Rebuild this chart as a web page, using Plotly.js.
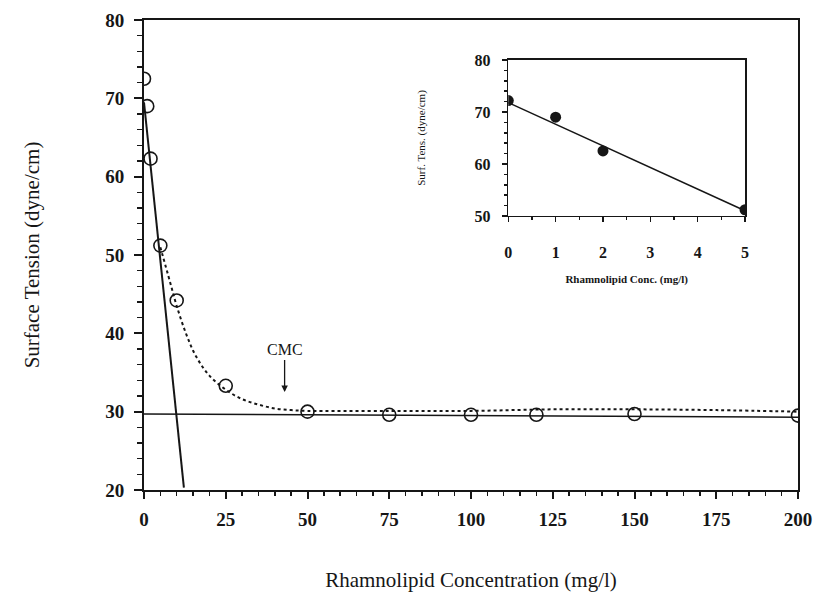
<!DOCTYPE html>
<html><head><meta charset="utf-8">
<script src="https://cdn.plot.ly/plotly-3.0.1.min.js"></script>
<style>body{margin:0;background:#fff}</style>
</head><body><div id="chart" style="width:815px;height:593px"></div>
<script>
// Main data: rhamnolipid concentration (mg/l) vs surface tension (dyne/cm)
const concMain = [0, 1, 2, 5, 10, 25, 50, 75, 100, 120, 150, 200];
const tensionMain = [72.5, 69.0, 62.3, 51.2, 44.2, 33.3, 30.0, 29.6, 29.6, 29.6, 29.7, 29.5];
// Dotted fitted curve
const curveX = [5, 8, 10, 13, 16, 20, 25, 30, 35, 40, 45, 50, 75, 100, 125, 150, 175, 200];
const curveY = [51.0, 46.5, 43.5, 39.8, 37.0, 34.6, 32.8, 31.6, 30.9, 30.4, 30.2, 30.1, 30.1, 30.1, 30.3, 30.3, 30.2, 30.0];
// Steep linear fit
const steepX = [0, 12.2];
const steepY = [69.5, 20.3];
// Plateau line
const plateauX = [0, 200];
const plateauY = [29.7, 29.3];
// Inset data
const concInset = [0, 1, 2, 5];
const tensionInset = [72.2, 69.0, 62.5, 51.2];
const insetFitX = [0, 5];
const insetFitY = [71.8, 51.0];
// CMC marker
const cmcX = 43;

const ink = '#161616';
const serif = 'Liberation Serif, Times New Roman, serif';

const traces = [
  {x: steepX, y: steepY, mode: 'lines', line: {color: ink, width: 2}, xaxis: 'x', yaxis: 'y'},
  {x: plateauX, y: plateauY, mode: 'lines', line: {color: ink, width: 1.5}, xaxis: 'x', yaxis: 'y'},
  {x: curveX, y: curveY, mode: 'lines', line: {color: ink, width: 2, dash: 'dot', shape: 'spline'}, xaxis: 'x', yaxis: 'y'},
  {x: concMain, y: tensionMain, mode: 'markers', marker: {symbol: 'circle-open', size: 13, color: ink, line: {width: 1.6, color: ink}}, xaxis: 'x', yaxis: 'y'},
  {x: insetFitX, y: insetFitY, mode: 'lines', line: {color: ink, width: 1.5}, xaxis: 'x2', yaxis: 'y2'},
  {x: concInset, y: tensionInset, mode: 'markers', marker: {symbol: 'circle', size: 11, color: ink}, xaxis: 'x2', yaxis: 'y2'}
];

const layout = {
  width: 815, height: 593,
  margin: {l: 144, r: 17, t: 20, b: 103},
  paper_bgcolor: '#fff', plot_bgcolor: '#fff',
  showlegend: false,
  font: {family: serif, color: ink},
  xaxis: {
    range: [0, 200], tickvals: [0, 25, 50, 75, 100, 125, 150, 175, 200],
    showgrid: false, zeroline: false, showline: true, linecolor: ink, linewidth: 2, mirror: true,
    ticks: 'outside', ticklen: 7, tickwidth: 2, tickcolor: ink,
    minor: {dtick: 5, ticks: 'outside', ticklen: 4, tickwidth: 1.5, tickcolor: ink},
    tickfont: {family: serif, size: 19, color: ink, weight: 'bold'},
    ticklabelstandoff: 4,
    title: {text: 'Rhamnolipid Concentration (mg/l)', font: {family: serif, size: 21, color: ink}, standoff: 44}
  },
  yaxis: {
    range: [20, 80], tickvals: [20, 30, 40, 50, 60, 70, 80],
    showgrid: false, zeroline: false, showline: true, linecolor: ink, linewidth: 2, mirror: true,
    ticks: 'outside', ticklen: 8, tickwidth: 2, tickcolor: ink,
    minor: {dtick: 2, ticks: 'outside', ticklen: 5, tickwidth: 1.5, tickcolor: ink},
    tickfont: {family: serif, size: 19, color: ink, weight: 'bold'},
    ticklabelstandoff: 6,
    title: {text: 'Surface Tension (dyne/cm)', font: {family: serif, size: 21, color: ink}, standoff: 60}
  },
  xaxis2: {
    domain: [0.557, 0.919], anchor: 'y2', range: [0, 5], tickvals: [0, 1, 2, 3, 4, 5],
    showgrid: false, zeroline: false, showline: true, linecolor: ink, linewidth: 1.5, mirror: true,
    ticks: 'outside', ticklen: 5, tickwidth: 1.5, tickcolor: ink,
    minor: {dtick: 0.5, ticks: 'outside', ticklen: 3, tickcolor: ink},
    tickfont: {family: serif, size: 16, color: ink, weight: 'bold'},
    ticklabelstandoff: 16,
    title: {text: 'Rhamnolipid Conc. (mg/l)', font: {family: serif, size: 11, color: ink, weight: 'bold'}, standoff: 15}
  },
  yaxis2: {
    domain: [0.583, 0.915], anchor: 'x2', range: [50, 80], tickvals: [50, 60, 70, 80],
    showgrid: false, zeroline: false, showline: true, linecolor: ink, linewidth: 1.5, mirror: true,
    ticks: 'outside', ticklen: 5, tickwidth: 1.5, tickcolor: ink,
    minor: {dtick: 2, ticks: 'outside', ticklen: 3, tickcolor: ink},
    tickfont: {family: serif, size: 16, color: ink, weight: 'bold'},
    ticklabelstandoff: 8,
    title: {text: 'Surf. Tens. (dyne/cm)', font: {family: serif, size: 11, color: ink}, standoff: 46}
  },
  annotations: [
    {x: cmcX, y: 32.5, xref: 'x', yref: 'y', ax: 0, ay: -32, showarrow: true, arrowhead: 2, arrowsize: 1, arrowwidth: 1.3, arrowcolor: ink,
     text: 'CMC', font: {family: serif, size: 16, color: ink}, yanchor: 'bottom'}
  ]
};

Plotly.newPlot('chart', traces, layout, {displayModeBar: false, staticPlot: true});
</script></body></html>
